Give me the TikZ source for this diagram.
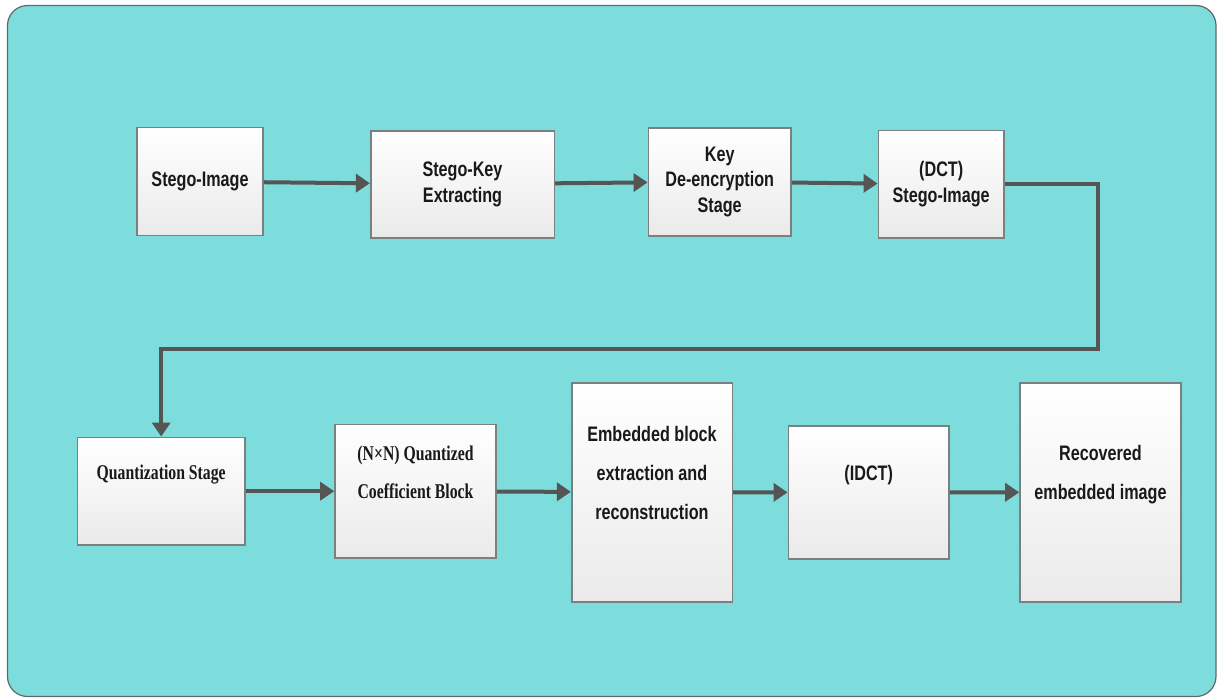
\documentclass[tikz,border=0pt]{standalone}
\usepackage{fontspec}
\usetikzlibrary{arrows.meta}
\newfontfamily\stagefont{Liberation Sans}[FakeStretch=0.77]
\newfontfamily\stageserif{Liberation Serif}[FakeStretch=0.75]
\definecolor{bgteal}{RGB}{125,221,220}
\definecolor{bgedge}{RGB}{95,105,105}
\definecolor{boxedge}{RGB}{120,128,128}
\definecolor{boxlow}{RGB}{234,234,234}
\definecolor{flowgray}{RGB}{85,85,85}
\begin{document}
\begin{tikzpicture}[x=0.5pt,y=-0.5pt,
		stage/.style={draw=boxedge,line width=0.8pt,top color=white,bottom color=boxlow,inner sep=0pt,align=center,text=black!90,font=\stagefont\bfseries\fontsize{10.5}{12.75}\selectfont},
		wide/.style={font=\stagefont\bfseries\fontsize{10.5}{19.5}\selectfont},
		serif/.style={font=\stageserif\bfseries\fontsize{10.5}{19}\selectfont},
		flow/.style={draw=flowgray,line width=2pt,-{Triangle[length=7pt,width=9pt]}}]
		\useasboundingbox (0,0) rectangle (1217,697);
		\draw[draw=bgedge,fill=bgteal,line width=0.6pt,rounded corners=10pt] (7.5,5.5) rectangle (1216,696.5);
		% top row
		\node[stage,minimum width=63pt,minimum height=54pt] (stego) at (200,181.6) {Stego-Image};
		\node[stage,minimum width=91.8pt,minimum height=53.5pt] (keyext) at (462.5,184.2) {Stego-Key\\Extracting};
		\node[stage,minimum width=71.3pt,minimum height=54pt] (keydec) at (719.7,181.7) {Key\\De-encryption\\Stage};
		\node[stage,minimum width=62.8pt,minimum height=53.7pt] (dctimg) at (941.2,184.3) {(DCT)\\Stego-Image};
		% bottom row
		\node[stage,serif,minimum width=83.8pt,minimum height=53.8pt] (quant) at (161.2,491.2) {Quantization Stage\\~};
		\node[stage,serif,minimum width=80.5pt,minimum height=66.8pt] (coef) at (415.5,491.2) {(N×N) Quantized\\Coefficient Block\\~};
		\node[stage,wide,minimum width=80.3pt,minimum height=109.5pt] (embext) at (652,492.2) {Embedded block\\extraction and\\reconstruction\\~};
		\node[stage,wide,minimum width=80.3pt,minimum height=66.5pt] (idct) at (868.7,492.5) {(IDCT)\\~};
		\node[stage,wide,minimum width=80.5pt,minimum height=109.5pt] (recov) at (1100.5,492.2) {Recovered\\embedded image\\~};
		\coordinate (bend) at (1097.7,348.7);
		\draw[flow] (stego) -- (keyext);
		\draw[flow] (keyext) -- (keydec);
		\draw[flow] (keydec) -- (dctimg);
		\draw[flow] (dctimg.east) -| (bend) -| (quant.north);
		\draw[flow] (quant) -- (coef);
		\draw[flow] (coef) -- (embext);
		\draw[flow] (embext) -- (idct);
		\draw[flow] (idct) -- (recov);
\end{tikzpicture}
\end{document}
